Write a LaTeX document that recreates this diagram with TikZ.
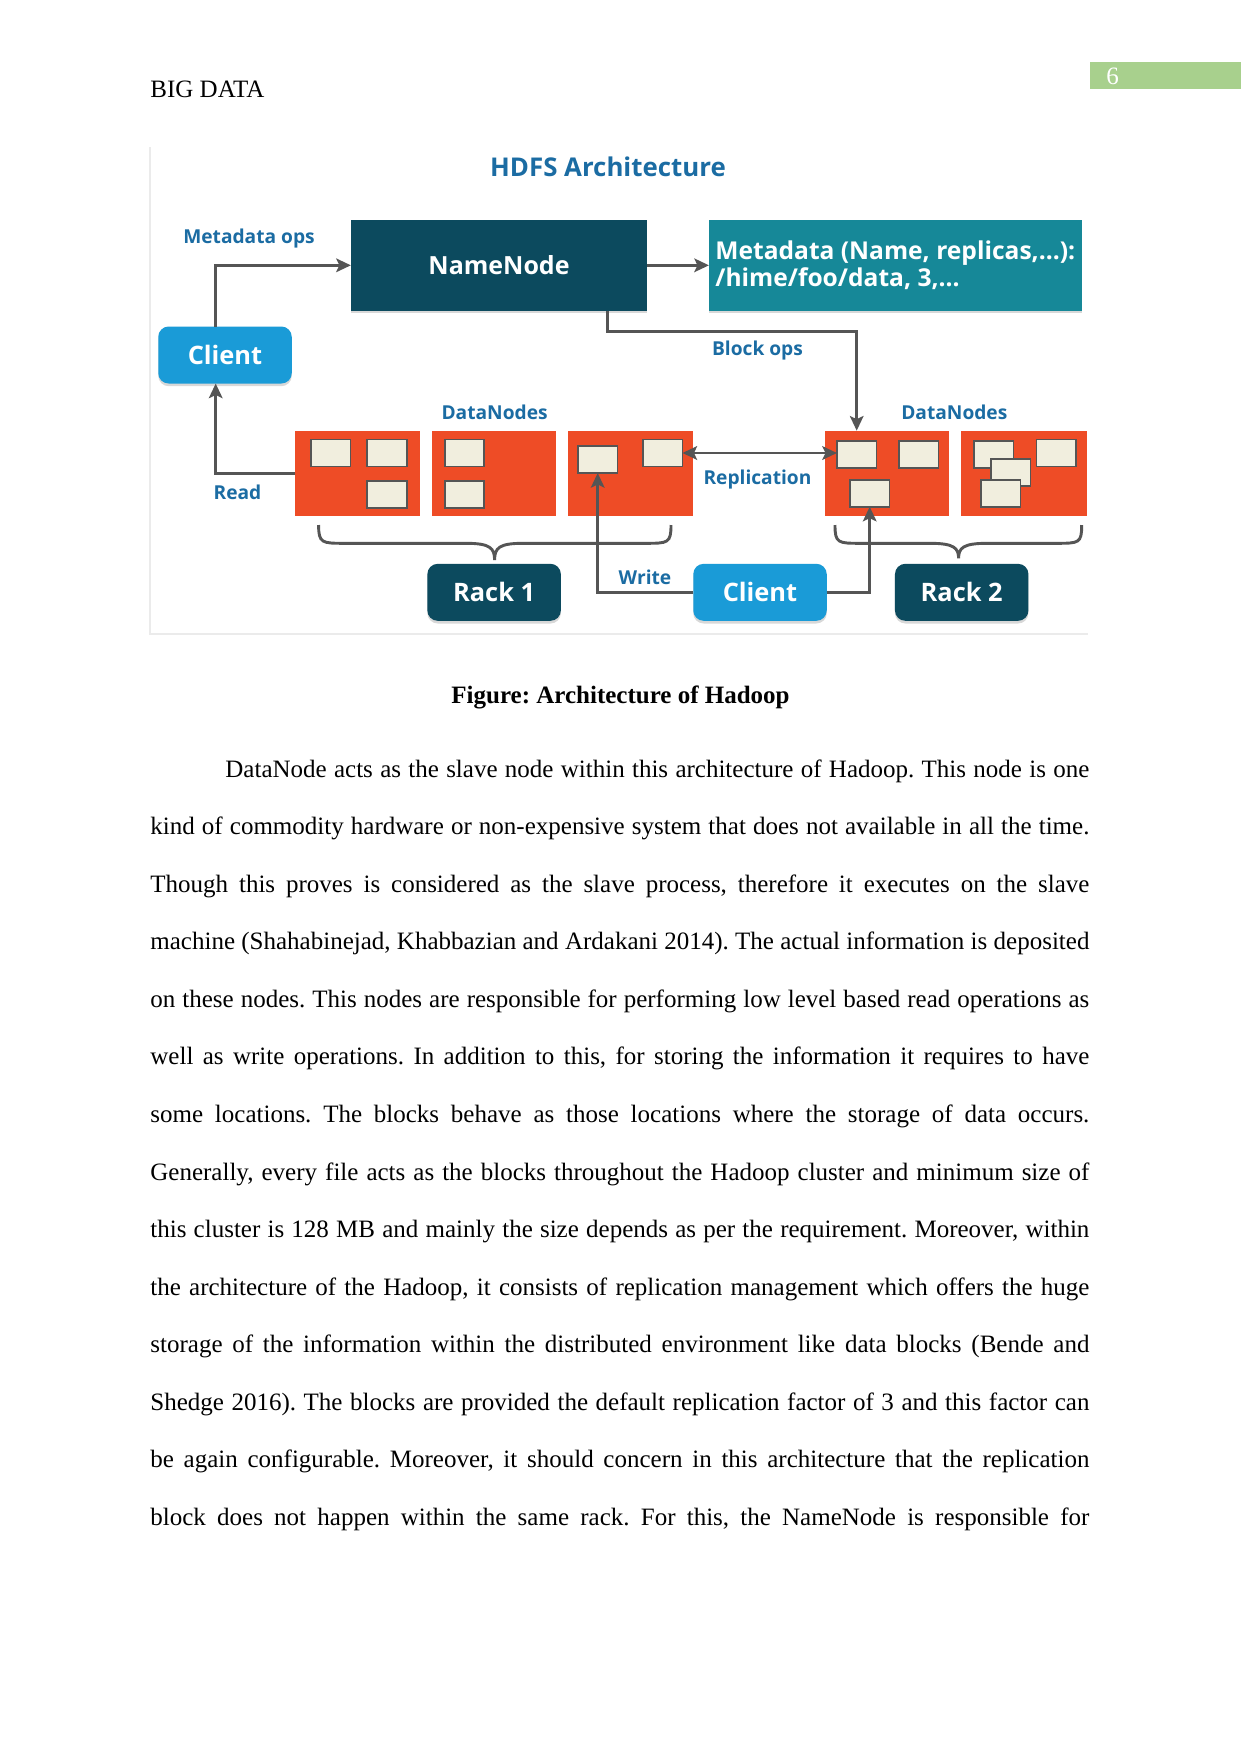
\documentclass[tikz,border=0pt]{standalone}
\usepackage{fontspec}
\setmainfont{Liberation Serif}
\newfontfamily\osans{Open Sans}
\usetikzlibrary{arrows.meta,shadows,calc}
\definecolor{lblue}{RGB}{27,108,163}
\definecolor{dteal}{RGB}{12,74,94}
\definecolor{mteal}{RGB}{22,136,152}
\definecolor{cblue}{RGB}{26,155,215}
\definecolor{dnred}{RGB}{238,76,38}
\definecolor{blkc}{RGB}{241,238,222}
\definecolor{lgray}{RGB}{85,85,85}
\definecolor{pgreen}{RGB}{168,208,141}
\newcommand\jline[1]{\hbox to 450.7pt{#1}}
\frenchspacing
\begin{document}
\begin{tikzpicture}[x=0.48pt,y=-0.48pt,
  wd/.style={minimum width=#1*0.48pt},
  ht/.style={minimum height=#1*0.48pt},
  shad/.style={drop shadow={shadow xshift=0pt,shadow yshift=-1.3pt,opacity=0.3}},
  boxbase/.style={inner sep=0pt, outer sep=0pt, text=white},
  bigbox/.style={boxbase, font=\osans\bfseries\fontsize{12}{14}\selectfont, shad},
  pill/.style={boxbase, rounded corners=5pt, wd=133.5, ht=57, font=\osans\bfseries\fontsize{12.2}{15}\selectfont, shad},
  dnbox/.style={inner sep=0pt, outer sep=0pt, fill=dnred, wd=124.5, ht=85.3},
  blkbox/.style={inner sep=0pt, outer sep=0pt, fill=blkc, draw=lgray, line width=0.9pt, wd=39.5, ht=27},
  lab/.style={inner sep=0pt, text=lblue, font=\osans\bfseries\fontsize{9.2}{11}\selectfont},
  arr/.style={draw=lgray, line width=1.4pt, -{Stealth[length=7pt,width=6.5pt,inset=1.5pt]}},
  arrb/.style={draw=lgray, line width=1.4pt, {Stealth[length=7pt,width=6.5pt,inset=1.5pt]}-{Stealth[length=7pt,width=6.5pt,inset=1.5pt]}},
  bracestyle/.style={draw=lgray, line width=1.4pt},
  serif12/.style={inner sep=0pt, font=\fontsize{12}{14}\selectfont}
]
\useasboundingbox (0,0) rectangle (1241,1754);
\fill[white] (0,0) rectangle (1241,1754);

% header
\node[serif12, anchor=base west] (hdr) at (150,97.4) {BIG DATA};
\node[inner sep=0pt, outer sep=0pt, fill=pgreen, wd=151, ht=27, anchor=north west] (pnbox) at (1090,61.5) {};
\node[serif12, anchor=base west, text=white] (pnum) at (1106,84.5) {6};

% diagram frame
\draw[draw=black!8, line width=0.6pt] (150,147) -- (150,634) -- (1088,634);

% title
\node[inner sep=0pt, text=lblue, font=\osans\bfseries\fontsize{12.4}{15}\selectfont, anchor=base] (title) at (608,176.7) {HDFS Architecture};

% top boxes
\node[bigbox, fill=dteal, wd=296.3, ht=90.7] (namenode) at (499,265.3) {NameNode};
\node[bigbox, fill=mteal, wd=372.7, ht=90.7, align=left, font=\osans\bfseries\fontsize{11.8}{13.2}\selectfont] (meta) at (895.3,265.3) {Metadata (Name, replicas,...):\\/hime/foo/data, 3,...};

% clients and racks
\node[pill, fill=cblue] (client1) at (225,355) {Client};
\node[pill, fill=dteal] (rack1) at (494.1,592.3) {Rack 1};
\node[pill, fill=cblue] (client2) at (760,592.3) {Client};
\node[pill, fill=dteal] (rack2) at (961.7,592.3) {Rack 2};

% datanodes
\node[dnbox] (dn1) at (357.5,473.3) {};
\node[dnbox] (dn2) at (494,473.3) {};
\node[dnbox] (dn3) at (630.4,473.3) {};
\node[dnbox] (dn4) at (887.2,473.3) {};
\node[dnbox, wd=126] (dn5) at (1023.7,473.3) {};

% blocks
\node[blkbox] (b11) at (330.7,453) {};
\node[blkbox] (b12) at (387,453) {};
\node[blkbox] (b13) at (387,494.5) {};
\node[blkbox] (b21) at (464.5,453) {};
\node[blkbox] (b22) at (464.5,494.5) {};
\node[blkbox] (b31) at (597.7,459.5) {};
\node[blkbox] (b32) at (662.7,453) {};
\node[blkbox] (b41) at (856.7,454.5) {};
\node[blkbox] (b42) at (918.8,454.5) {};
\node[blkbox] (b43) at (869.7,493.2) {};
\node[blkbox] (b51) at (993.7,454.5) {};
\node[blkbox] (b52) at (1056.3,453) {};
\node[blkbox] (b53) at (1010.7,472.8) {};
\node[blkbox] (b54) at (1000.8,493.2) {};

% labels
\node[lab] (lmeta) at (249,239) {Metadata ops};
\node[lab] (ldn1) at (494.6,412) {DataNodes};
\node[lab] (ldn2) at (954.3,412) {DataNodes};
\node[lab] (lblock) at (757.5,351) {Block ops};
\node[lab] (lread) at (237.5,492) {Read};
\node[lab] (lrep) at (757.5,480) {Replication};
\node[lab] (lwrite) at (645,577) {Write};

% connectors
\coordinate (rdx) at (215.7,0);
\coordinate (bk1) at (607.9,331.7);
\coordinate (bk2) at (856.7,331.7);
\draw[arr] (client1.north -| rdx) |- (namenode.west);
\draw[arr] (dn1.west) -| (client1.south -| rdx);
\draw[arr] (namenode.east) -- (meta.west);
\draw[arr] (namenode.south -| bk1) -- (bk1) -- (bk2) -- (dn4.north -| bk2);
\draw[arrb] (b32.east) -- (b32.east -| b41.west);
\draw[arr] (client2.west) -| (b31.south);
\draw[arr] (client2.east) -| (b43.south);

% braces
\draw[bracestyle] (318.6,525) .. controls (318.6,543.3) and (322,543.3) .. (345,543.3) -- (466,543.3) .. controls (490,543.3) and (494.6,548) .. (494.6,560) .. controls (494.6,548) and (499,543.3) .. (523,543.3) -- (645,543.3) .. controls (668,543.3) and (671,543.3) .. (671,525);
\draw[bracestyle] (835,525) .. controls (835,543.3) and (838,543.3) .. (861,543.3) -- (930,543.3) .. controls (954,543.3) and (958.6,548) .. (958.6,558.3) .. controls (958.6,548) and (963,543.3) .. (987,543.3) -- (1056,543.3) .. controls (1079,543.3) and (1081.7,543.3) .. (1081.7,525);

% caption
\node[serif12, anchor=base, font=\bfseries\fontsize{12}{14}\selectfont] (cap) at (620.5,703.5) {Figure: Architecture of Hadoop};

% body
\node[anchor=north west, inner sep=0pt] (body) at (150,755.8) {\vbox{\fontsize{12}{27.63}\selectfont\baselineskip=27.63pt
\jline{\rule{0pt}{10pt}\hspace*{36pt}DataNode acts as the slave node within this architecture of Hadoop. This node is one}
\jline{kind of commodity hardware or non-expensive system that does not available in all the time.}
\jline{Though this proves is considered as the slave process, therefore it executes on the slave}
\jline{machine (Shahabinejad, Khabbazian and Ardakani 2014). The actual information is deposited}
\jline{on these nodes. This nodes are responsible for performing low level based read operations as}
\jline{well as write operations. In addition to this, for storing the information it requires to have}
\jline{some locations. The blocks behave as those locations where the storage of data occurs.}
\jline{Generally, every file acts as the blocks throughout the Hadoop cluster and minimum size of}
\jline{this cluster is 128 MB and mainly the size depends as per the requirement. Moreover, within}
\jline{the architecture of the Hadoop, it consists of replication management which offers the huge}
\jline{storage of the information within the distributed environment like data blocks (Bende and}
\jline{Shedge 2016). The blocks are provided the default replication factor of 3 and this factor can}
\jline{be again configurable. Moreover, it should concern in this architecture that the replication}
\jline{block does not happen within the same rack. For this, the NameNode is responsible for}
}};
\end{tikzpicture}
\end{document}
